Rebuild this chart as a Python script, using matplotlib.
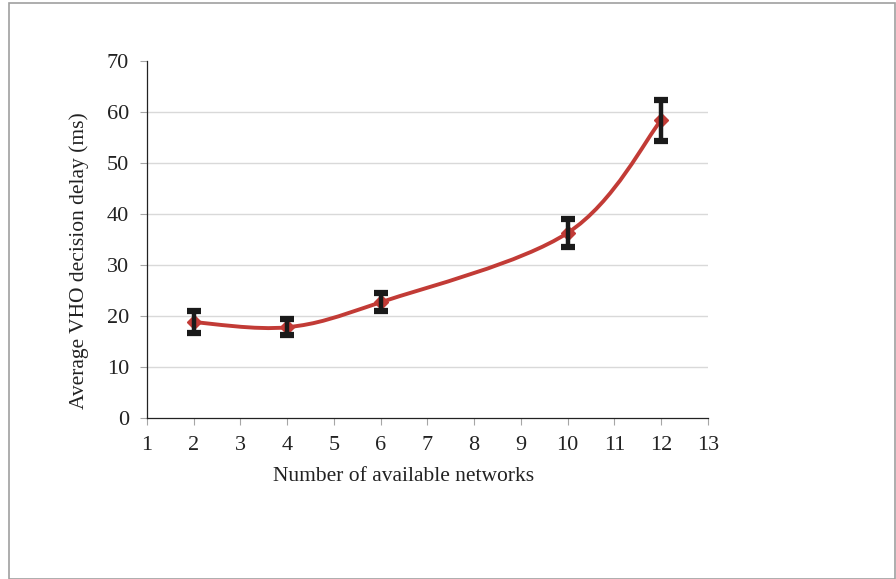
import matplotlib
matplotlib.use("Agg")
import matplotlib.pyplot as plt
from matplotlib.path import Path
from matplotlib.patches import PathPatch, Rectangle

# Data
networks = [2, 4, 6, 10, 12]
delay = [18.8, 17.8, 22.7, 36.3, 58.4]
err = [2.1, 1.6, 1.8, 2.8, 4.0]

plt.rcParams['font.family'] = ['Liberation Serif', 'DejaVu Serif']

fig = plt.figure(figsize=(8.96, 5.79), dpi=100)
ax = fig.add_axes([0.164, 0.278, 0.626, 0.6166])

# outer grey frame
fig.patches.append(Rectangle((9 / 896, 0), 886 / 896, 576 / 579, transform=fig.transFigure,
                             fill=False, edgecolor='#A0A0A0', linewidth=1.2))

# smoothed line (Catmull-Rom style bezier, like spreadsheet smoothing)
pts = list(zip(networks, delay))
verts = [pts[0]]
codes = [Path.MOVETO]
for i in range(len(pts) - 1):
    p0 = pts[i - 1] if i > 0 else pts[i]
    p1 = pts[i]
    p2 = pts[i + 1]
    p3 = pts[i + 2] if i + 2 < len(pts) else pts[i + 1]
    c1 = (p1[0] + (p2[0] - p0[0]) / 6, p1[1] + (p2[1] - p0[1]) / 6)
    c2 = (p2[0] - (p3[0] - p1[0]) / 6, p2[1] - (p3[1] - p1[1]) / 6)
    verts += [c1, c2, p2]
    codes += [Path.CURVE4] * 3
ax.add_patch(PathPatch(Path(verts, codes), facecolor='none', edgecolor='#C23B36',
                       linewidth=2.8, capstyle='round', zorder=3))
ax.plot(networks, delay, linestyle='none', marker='D', markersize=7,
        color='#C23B36', zorder=3)

ax.errorbar(networks, delay, yerr=err, fmt='none', ecolor='#1A1A1A',
            elinewidth=3.2, capsize=5, capthick=4.5, zorder=4)

ax.set_xlim(1, 13)
ax.set_ylim(0, 70)
ax.set_xticks(range(1, 14))
ax.set_yticks(range(0, 71, 10))
ax.tick_params(axis='both', direction='out', length=5, width=0.8, labelsize=16,
               color='#A6A6A6', labelcolor='#222222')
ax.tick_params(axis='x', pad=8)
ax.tick_params(axis='y', pad=8)

for y in range(10, 61, 10):
    ax.axhline(y, color='#D9D9D9', linewidth=1.0, zorder=0)

for s in ['top', 'right']:
    ax.spines[s].set_visible(False)
for s in ['left', 'bottom']:
    ax.spines[s].set_linewidth(0.9)
    ax.spines[s].set_color('#222222')

ax.set_xlabel('Number of available networks', fontsize=15.5, color='#222222')
ax.set_ylabel('Average VHO decision delay (ms)', fontsize=15.5, color='#222222')
ax.xaxis.set_label_coords(0.457, -0.138)
ax.yaxis.set_label_coords(-0.103, 0.44)

fig.savefig('out.png', dpi=100)
